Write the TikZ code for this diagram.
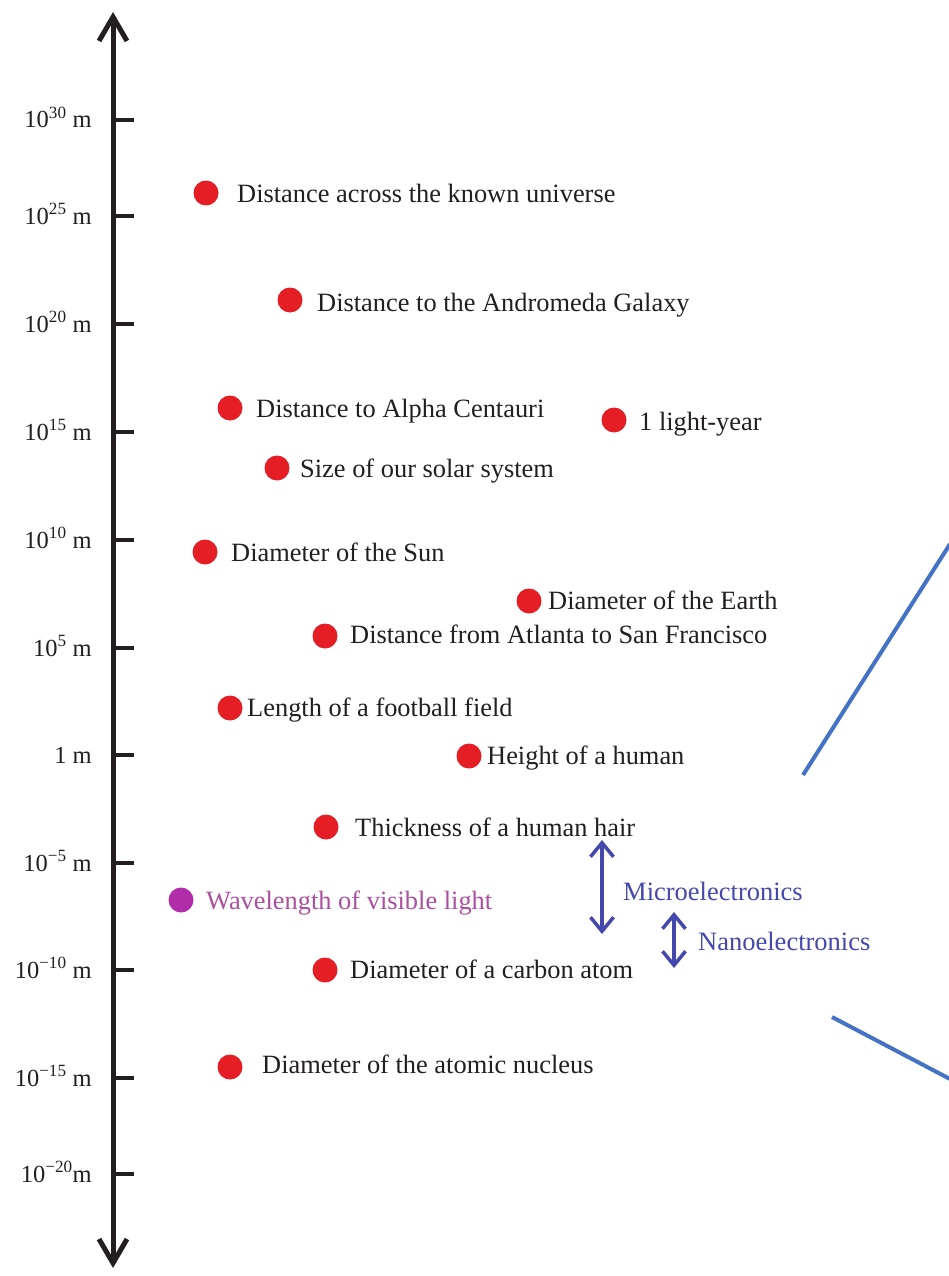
\documentclass[tikz,border=0pt]{standalone}
\usepackage{fontspec}
\setmainfont{Liberation Serif}
\usetikzlibrary{arrows.meta}
\definecolor{dotred}{RGB}{228,30,36}
\definecolor{dotpurple}{RGB}{178,45,170}
\definecolor{txtpurple}{RGB}{170,80,158}
\definecolor{nanoblue}{RGB}{68,72,172}
\definecolor{lineblue}{RGB}{68,114,196}
\definecolor{txt}{RGB}{35,31,32}
\newcommand{\pw}[1]{10\textsuperscript{#1}}
\tikzset{
  dot/.style={circle,fill=dotred,inner sep=0pt,minimum size=25pt},
  pdot/.style={circle,fill=dotpurple,inner sep=0pt,minimum size=25pt},
  lbl/.style={anchor=base west,inner sep=0pt,text=txt,font=\fontsize{26.4}{31}\selectfont},
  ax/.style={anchor=base east,inner sep=0pt,text=txt,font=\fontsize{24.5}{29}\selectfont},
  tick/.style={line width=4pt,txt},
  axisline/.style={line width=5pt,txt,{Straight Barb[length=24pt,width=28pt]}-{Straight Barb[length=24pt,width=28pt]}},
  scalearrow/.style={line width=3.5pt,nanoblue,{Straight Barb[length=14pt,width=23pt]}-{Straight Barb[length=14pt,width=23pt]}},
  bluelbl/.style={anchor=base west,inner sep=0pt,text=nanoblue,font=\fontsize{26.5}{31}\selectfont},
  zoomline/.style={line width=4pt,lineblue}
}
\begin{document}
\begin{tikzpicture}[x=1pt,y=-1pt]
\useasboundingbox (0,0) rectangle (948,1276);
\fill[white] (0,0) rectangle (948,1276);
% axis
\coordinate (top) at (113,12);
\coordinate (bot) at (113,1268);
\draw[axisline] (bot) -- (top);
% ticks and labels
\foreach \y/\t [count=\i] in {120/{\pw{30} m},216/{\pw{25} m},324/{\pw{20} m},432/{\pw{15} m},540/{\pw{10} m},648/{\pw{5} m},755/{1 m},863/{\pw{−5} m},970/{\pw{−10} m},1078/{\pw{−15} m},1174/{\pw{−20}m}}{
  \coordinate (t\i a) at (113,\y);
  \coordinate (t\i b) at (134,\y);
  \draw[tick] (t\i a) -- (t\i b);
  \node[ax] (ax\i) at (92,\y+8) {\t};
}
% items
\node[dot] (d1) at (206,193) {};
\node[lbl] (l1) at (237,203) {Distance across the known universe};
\node[dot] (d2) at (290,300) {};
\node[lbl] (l2) at (317,311) {Distance to the Andromeda Galaxy};
\node[dot] (d3) at (230,408) {};
\node[lbl] (l3) at (256,417) {Distance to Alpha Centauri};
\node[dot] (d4) at (614,420) {};
\node[lbl] (l4) at (639,430) {1 light-year};
\node[dot] (d5) at (277,468) {};
\node[lbl] (l5) at (300,477) {Size of our solar system};
\node[dot] (d6) at (205,552) {};
\node[lbl] (l6) at (231,561) {Diameter of the Sun};
\node[dot] (d7) at (529,601) {};
\node[lbl] (l7) at (548,609) {Diameter of the Earth};
\node[dot] (d8) at (325,636) {};
\node[lbl] (l8) at (350,643) {Distance from Atlanta to San Francisco};
\node[dot] (d9) at (230,708) {};
\node[lbl] (l9) at (247,716) {Length of a football field};
\node[dot] (d10) at (469,756) {};
\node[lbl] (l10) at (487,764) {Height of a human};
\node[dot] (d11) at (326,827) {};
\node[lbl] (l11) at (355,836) {Thickness of a human hair};
\node[pdot] (d12) at (181,900) {};
\node[lbl,text=txtpurple] (l12) at (206,909) {Wavelength of visible light};
\node[dot] (d13) at (325,970) {};
\node[lbl] (l13) at (350,978) {Diameter of a carbon atom};
\node[dot] (d14) at (230,1067) {};
\node[lbl] (l14) at (262,1073) {Diameter of the atomic nucleus};
% micro / nano
\coordinate (ma) at (602,840);
\coordinate (mb) at (602,934);
\draw[scalearrow] (mb) -- (ma);
\node[bluelbl] (micro) at (623,900) {Microelectronics};
\coordinate (na) at (674,912);
\coordinate (nb) at (674,968);
\draw[scalearrow] (nb) -- (na);
\node[bluelbl] (nano) at (698,950) {Nanoelectronics};
% zoom lines
\coordinate (z1a) at (803,775);
\coordinate (z1b) at (950,544);
\draw[zoomline] (z1a) -- (z1b);
\coordinate (z2a) at (832,1017);
\coordinate (z2b) at (950,1079);
\draw[zoomline] (z2a) -- (z2b);
\end{tikzpicture}
\end{document}
